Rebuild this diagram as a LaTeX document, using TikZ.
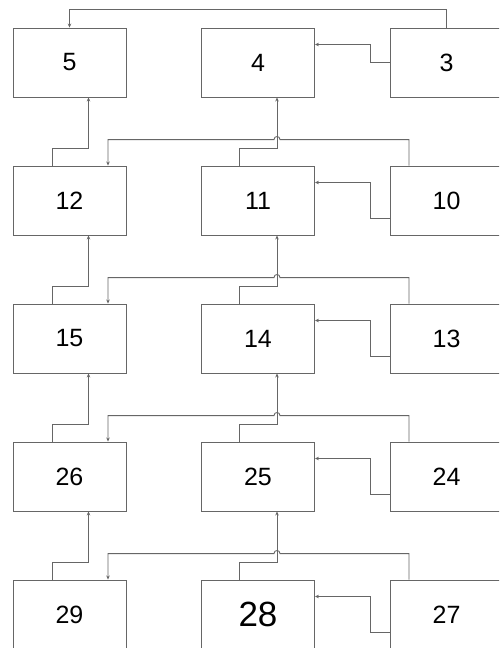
\documentclass[tikz,border=0pt]{standalone}
\usepackage{fontspec}
\setmainfont{Liberation Sans}
\usetikzlibrary{arrows.meta}
\tikzset{
  blk/.style={draw=black!60, line width=0.9pt, minimum width=113pt, minimum height=69pt, inner sep=0pt, font=\fontsize{25}{25}\selectfont},
  arr/.style={draw=black!60, line width=0.9pt, -{Stealth[length=4pt,width=3.5pt]}}}

\begin{document}
\begin{tikzpicture}[x=1pt,y=-1pt]
\useasboundingbox[fill=white] (0,0) rectangle (499,648);
\clip (0,0) rectangle (499,648);
	% boxes
	\node[blk] (b5) at (69.5,62.5) {5};
	\node[blk] (b4) at (258,62.5) {4};
	\node[blk] (b3) at (446.5,62.5) {3};
	\node[blk] (b12) at (69.5,200.5) {12};
	\node[blk] (b11) at (258,200.5) {11};
	\node[blk] (b10) at (446.5,200.5) {10};
	\node[blk] (b15) at (69.5,338.5) {15};
	\node[blk] (b14) at (258,338.5) {14};
	\node[blk] (b13) at (446.5,338.5) {13};
	\node[blk] (b26) at (69.5,476.5) {26};
	\node[blk] (b25) at (258,476.5) {25};
	\node[blk] (b24) at (446.5,476.5) {24};
	\node[blk] (b29) at (69.5,614.5) {29};
	\node[blk,font=\fontsize{35}{35}\selectfont] (b28) at (258,614.5) {28};
	\node[blk] (b27) at (446.5,614.5) {27};
% row 1
\draw[arr] (b3.north) -- ++(0,-18) -| (b5.north);
\draw[arr] (b3.west) -- ++(-19,0) |- ([yshift=18pt]b4.east);
% row 1-2
\draw[arr] ([xshift=-17.5pt]b12.north) -- ++(0,-17) -| ([xshift=19pt]b5.south);
\draw[arr] ([xshift=-19pt]b11.north) -- ++(0,-17) -| ([xshift=19pt]b4.south);
\draw[arr] ([xshift=-37.5pt]b10.north) -- ++(0,-26) -- ++(-129,0) .. controls +(0,-4) and +(0,-4) .. ++(-6,0) -| ([xshift=38.5pt]b12.north);
\draw[arr] ([yshift=-18pt]b10.west) -- ++(-19,0) |- ([yshift=18pt]b11.east);
% row 2-3
\draw[arr] ([xshift=-17.5pt]b15.north) -- ++(0,-17) -| ([xshift=19pt]b12.south);
\draw[arr] ([xshift=-19pt]b14.north) -- ++(0,-17) -| ([xshift=19pt]b11.south);
\draw[arr] ([xshift=-37.5pt]b13.north) -- ++(0,-26) -- ++(-129,0) .. controls +(0,-4) and +(0,-4) .. ++(-6,0) -| ([xshift=38.5pt]b15.north);
\draw[arr] ([yshift=-18pt]b13.west) -- ++(-19,0) |- ([yshift=18pt]b14.east);
% row 3-4
\draw[arr] ([xshift=-17.5pt]b26.north) -- ++(0,-17) -| ([xshift=19pt]b15.south);
\draw[arr] ([xshift=-19pt]b25.north) -- ++(0,-17) -| ([xshift=19pt]b14.south);
\draw[arr] ([xshift=-37.5pt]b24.north) -- ++(0,-26) -- ++(-129,0) .. controls +(0,-4) and +(0,-4) .. ++(-6,0) -| ([xshift=38.5pt]b26.north);
\draw[arr] ([yshift=-18pt]b24.west) -- ++(-19,0) |- ([yshift=18pt]b25.east);
% row 4-5
\draw[arr] ([xshift=-17.5pt]b29.north) -- ++(0,-17) -| ([xshift=19pt]b26.south);
\draw[arr] ([xshift=-19pt]b28.north) -- ++(0,-17) -| ([xshift=19pt]b25.south);
\draw[arr] ([xshift=-37.5pt]b27.north) -- ++(0,-26) -- ++(-129,0) .. controls +(0,-4) and +(0,-4) .. ++(-6,0) -| ([xshift=38.5pt]b29.north);
\draw[arr] ([yshift=-18pt]b27.west) -- ++(-19,0) |- ([yshift=18pt]b28.east);
\end{tikzpicture}
\end{document}
